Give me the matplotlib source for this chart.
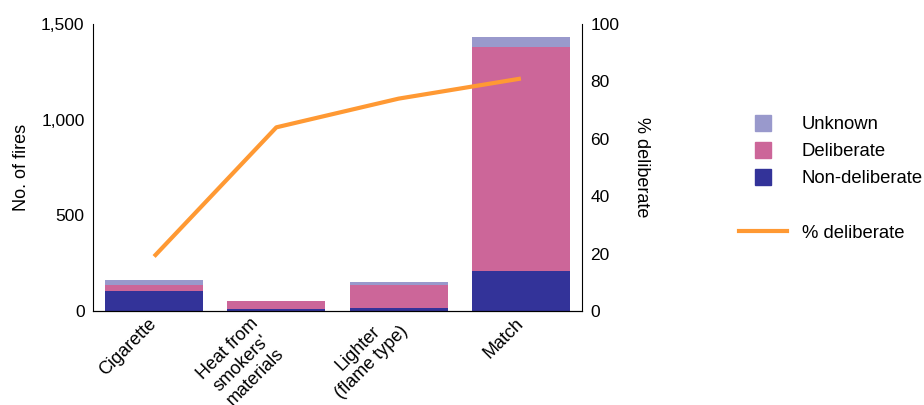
import matplotlib
matplotlib.use("Agg")
import matplotlib.pyplot as plt
import matplotlib.transforms as mtransforms
from matplotlib.lines import Line2D
from matplotlib.ticker import FuncFormatter

plt.rcParams['font.family'] = ['Liberation Sans', 'DejaVu Sans']
plt.rcParams['font.size'] = 12.5

categories = ["Cigarette", "Heat from\nsmokers'\nmaterials", "Lighter\n(flame type)", "Match"]
non_deliberate = [104, 10, 16, 208]
deliberate = [31, 42, 119, 1173]
unknown = [26, 2, 16, 52]
pct_deliberate = [19, 64, 74, 81]

c_unknown = "#9999cc"
c_del = "#cc6699"
c_nondel = "#333399"
c_line = "#ff9933"

fig = plt.figure(figsize=(9.24, 4.05), dpi=100)
ax = fig.add_axes([0.1006, 0.2321, 0.5293, 0.7086])

x = list(range(len(categories)))
bottom2 = [a + b for a, b in zip(non_deliberate, deliberate)]
ax.bar(x, non_deliberate, width=0.8, color=c_nondel)
ax.bar(x, deliberate, width=0.8, bottom=non_deliberate, color=c_del)
ax.bar(x, unknown, width=0.8, bottom=bottom2, color=c_unknown)

ax.set_xlim(-0.5, 3.5)
ax.set_ylim(0, 1500)
ax.set_yticks([0, 500, 1000, 1500])
ax.yaxis.set_major_formatter(FuncFormatter(lambda v, p: f"{int(v):,}"))
ax.set_ylabel("No. of fires", fontsize=13, labelpad=8)
ax.set_xticks(x)
ticklabels = ax.set_xticklabels(categories, rotation=45, ha="right", va="center",
                                rotation_mode="anchor", multialignment="center",
                                fontsize=13)
ax.tick_params(axis="y", length=0, pad=6)
ax.tick_params(axis="x", length=0, pad=7.5)
ax.spines["top"].set_visible(False)
ax.spines["right"].set_visible(False)

# the three-line label sits lower in the original
shift = mtransforms.ScaledTranslation(-5 / 72, -10 / 72, fig.dpi_scale_trans)
ticklabels[1].set_transform(ticklabels[1].get_transform() + shift)

ax2 = ax.twinx()
ax2.plot(x, pct_deliberate, color=c_line, lw=3, solid_capstyle="butt")
ax2.set_ylim(0, 100)
ax2.set_yticks([0, 20, 40, 60, 80, 100])
ax2.set_ylabel("% deliberate", fontsize=13, rotation=270, labelpad=22)
ax2.tick_params(length=0, pad=6)
ax2.spines["top"].set_visible(False)
ax2.spines["left"].set_visible(False)

sq = dict(marker="s", markersize=11.5, linestyle="none")
handles = [Line2D([], [], color=c_unknown, **sq),
           Line2D([], [], color=c_del, **sq),
           Line2D([], [], color=c_nondel, **sq),
           Line2D([], [], color="none"),
           Line2D([], [], color=c_line, lw=3)]
labels = ["Unknown", "Deliberate", "Non-deliberate", "", "% deliberate"]
fig.legend(handles, labels, loc="upper left", bbox_to_anchor=(739 / 924, 1 - 116 / 405),
           frameon=False, fontsize=13.3, borderpad=0, borderaxespad=0,
           handlelength=2.6, handletextpad=0.8, labelspacing=0.55)

fig.savefig("out.png", dpi=100)
